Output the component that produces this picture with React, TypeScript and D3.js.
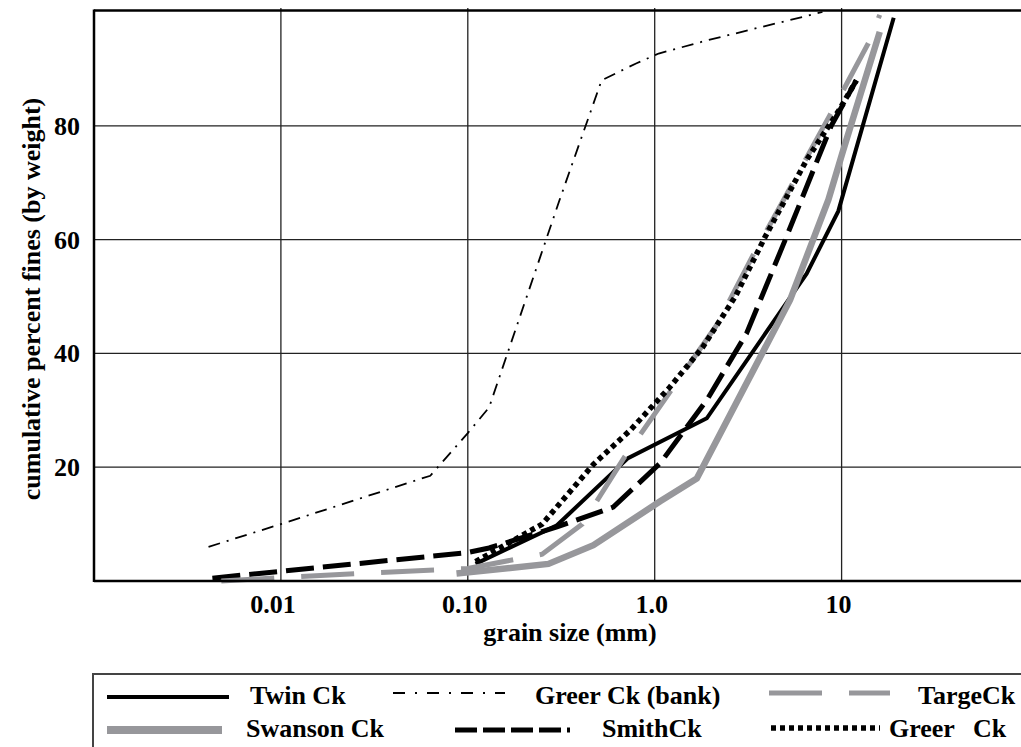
import * as d3 from "d3";

// grain size (mm) vs cumulative percent fines
const twinCk: [number, number][] = [
  [0.11, 3], [0.3, 9.8], [0.72, 21.6], [1.9, 28.6], [6.5, 54], [9.6, 65], [19, 99],
];
const swansonCk: [number, number][] = [
  [0.087, 1.3], [0.27, 3], [0.47, 6.3], [1.07, 14], [1.68, 18], [5.3, 49.4],
  [8.5, 67], [10.2, 75.7], [16, 96.5],
];
const greerBank: [number, number][] = [
  [0.0041, 6], [0.01, 10], [0.063, 18.5], [0.1, 26], [0.13, 30.5], [0.31, 67],
  [0.52, 88], [0.8, 91], [1.05, 92.7], [1.9, 95], [7.9, 100],
];
const smithCk: [number, number][] = [
  [0.0043, 0.5], [0.1, 5], [0.13, 5.8], [0.3, 9.5], [0.6, 13], [1.07, 20.7],
  [1.9, 31.8], [3.1, 43.5], [5, 60], [8.8, 80], [12, 88],
];
const targeCk: [number, number][] = [
  [0.0048, 0], [0.025, 1.3], [0.1, 2.2], [0.25, 4.7], [0.41, 10], [0.69, 21.8],
  [2.15, 45], [3.4, 57.6], [4.9, 67], [8.7, 82], [13.9, 94.5], [16, 99.5],
];
const greerCk: [number, number][] = [
  [0.11, 3.4], [0.25, 10], [0.47, 20.5], [0.74, 26.5], [1.2, 34], [1.8, 41],
  [2.7, 50], [3.9, 60.5], [6.5, 74], [9.8, 83], [12, 88],
];

const xTicks = [0.01, 0.1, 1, 10];
const xTickLabels = ["0.01", "0.10", "1.0", "10"];
const yTicks = [20, 40, 60, 80];

const GRAY = "#97979b";
const FONT = "'Liberation Serif', 'Times New Roman', serif";

const series = [
  { name: "Twin Ck", data: twinCk, color: "#000", width: 4, dash: "" },
  { name: "Greer Ck (bank)", data: greerBank, color: "#000", width: 1.8, dash: "12,7,2,7" },
  { name: "Swanson Ck", data: swansonCk, color: GRAY, width: 6.5, dash: "" },
  { name: "SmithCk", data: smithCk, color: "#000", width: 5, dash: "28,9" },
  { name: "TargeCk", data: targeCk, color: GRAY, width: 5, dash: "53,27" },
  { name: "Greer Ck", data: greerCk, color: "#000", width: 5.5, dash: "5,4" },
];

// legend layout (line start/end, line y, text x, text y)
const legendLayout: Record<
  string,
  { x1: number; x2: number; ly: number; tx: number; ty: number; w?: number; dash?: string; ws?: number }
> = {
  "Twin Ck": { x1: 107, x2: 229, ly: 697, tx: 250, ty: 704 },
  "Greer Ck (bank)": { x1: 393, x2: 505, ly: 693, tx: 535, ty: 704, dash: "12,10,2,10" },
  TargeCk: { x1: 769, x2: 890, ly: 693, tx: 918, ty: 704 },
  "Swanson Ck": { x1: 107, x2: 222, ly: 730, tx: 246, ty: 737, w: 8 },
  SmithCk: { x1: 455, x2: 570, ly: 730, tx: 602, ty: 737, dash: "22,6" },
  "Greer Ck": { x1: 771, x2: 880, ly: 728, tx: 889, ty: 737, ws: 12 },
};

export default function App() {
  const width = 1021;
  const height = 747;
  const left = 94;
  const bottom = 581;

  const x = d3.scaleLog().domain([0.001, 100]).range([left, 1028.5]);
  const y = d3.scaleLinear().domain([0, 100]).range([bottom, 12]);

  const line = d3
    .line<[number, number]>()
    .x((d) => x(d[0]))
    .y((d) => y(d[1]));

  return (
    <svg
      width={width}
      height={height}
      style={{ position: "absolute", left: 0, top: 0, background: "#fff" }}
      fontFamily={FONT}
      fontWeight="bold"
    >
      {/* grid */}
      {xTicks.map((t) => (
        <line key={"gx" + t} x1={x(t)} x2={x(t)} y1={y(100) - 4} y2={bottom} stroke="#222" strokeWidth={1.3} />
      ))}
      {yTicks.map((t) => (
        <line key={"gy" + t} x1={left} x2={width} y1={y(t)} y2={y(t)} stroke="#222" strokeWidth={1.3} />
      ))}

      {/* frame */}
      <line x1={left} x2={width} y1={10.5} y2={10.5} stroke="#000" strokeWidth={2.5} />
      <line x1={left} x2={left} y1={9.5} y2={bottom + 1} stroke="#000" strokeWidth={2.5} />

      {/* series */}
      {series.map((s) => (
        <path
          key={s.name}
          d={line(s.data) ?? ""}
          fill="none"
          stroke={s.color}
          strokeWidth={s.width}
          strokeDasharray={s.dash || undefined}
          strokeLinejoin="miter"
        />
      ))}

      <line x1={left} x2={width} y1={bottom} y2={bottom} stroke="#000" strokeWidth={2.5} />

      {/* axis labels */}
      {xTicks.map((t, i) => (
        <text key={"xl" + t} x={x(t) - (i === 0 ? 8 : 3)} y={613} textAnchor="middle" fontSize={26}>
          {xTickLabels[i]}
        </text>
      ))}
      {yTicks.map((t) => (
        <text key={"yl" + t} x={80} y={y(t) + 9} textAnchor="end" fontSize={26}>
          {t}
        </text>
      ))}
      <text x={570} y={641} textAnchor="middle" fontSize={26}>
        grain size (mm)
      </text>
      <text transform="translate(40,299) rotate(-90)" textAnchor="middle" fontSize={26}>
        cumulative percent fines (by weight)
      </text>

      {/* legend */}
      <line x1={93} x2={width} y1={674} y2={674} stroke="#444" strokeWidth={2} />
      <line x1={93} x2={93} y1={673} y2={height} stroke="#444" strokeWidth={2} />
      {series.map((s) => {
        const l = legendLayout[s.name];
        return (
          <g key={"lg" + s.name}>
            <line
              x1={l.x1}
              x2={l.x2}
              y1={l.ly}
              y2={l.ly}
              stroke={s.color}
              strokeWidth={l.w ?? s.width}
              strokeDasharray={l.dash ?? (s.dash || undefined)}
            />
            <text x={l.tx} y={l.ty} fontSize={26} style={l.ws ? { wordSpacing: l.ws } : undefined}>
              {s.name}
            </text>
          </g>
        );
      })}
    </svg>
  );
}
